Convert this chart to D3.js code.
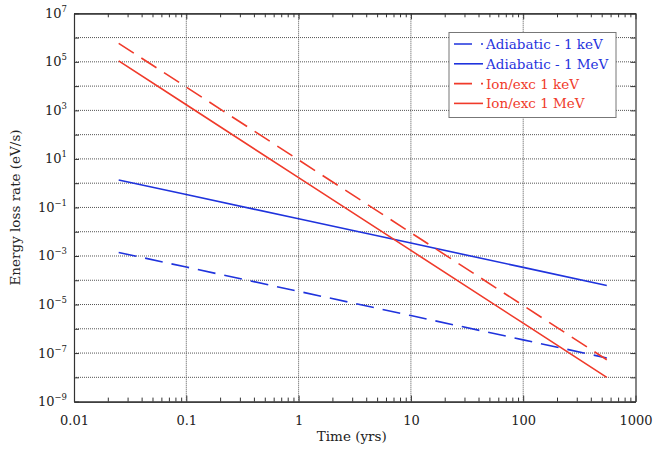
<!DOCTYPE html>
<html>
<head>
<meta charset="utf-8">
<script src="https://cdn.jsdelivr.net/npm/d3@7"></script>
<style>
  html, body { margin: 0; padding: 0; background: #fff; }
  svg { display: block; font-family: "DejaVu Serif", serif; }
</style>
</head>
<body>
<svg id="chart" width="653" height="450"></svg>
<script>
// Sample times (years) and energy loss rates (eV/s) for each process
const times = [0.025, 0.1, 1, 10, 100, 555];
const adiabaticKeV = [1.4e-3, 3.5e-4, 3.5e-5, 3.5e-6, 3.5e-7, 6.3e-8];
const adiabaticMeV = [1.35, 0.34, 0.034, 3.4e-3, 3.4e-4, 6.1e-5];
const ionKeV = [5.8e5, 9.1e3, 9.1, 9.1e-3, 9.1e-6, 5.3e-8];
const ionMeV = [1.1e5, 1.7e3, 1.7, 1.7e-3, 1.7e-6, 1.0e-8];

const seriesNames = ["Adiabatic - 1 keV", "Adiabatic - 1 MeV", "Ion/exc 1 keV", "Ion/exc 1 MeV"];
const seriesValues = [adiabaticKeV, adiabaticMeV, ionKeV, ionMeV];

const xTickValues = [0.01, 0.1, 1, 10, 100, 1000];
const xTickLabels = ["0.01", "0.1", "1", "10", "100", "1000"];
const yLabelExponents = [7, 5, 3, 1, -1, -3, -5, -7, -9];

const BLUE = "#1f33dd";
const RED = "#f03a2a";
const styles = [
  { color: BLUE, dash: "18,9" },
  { color: BLUE, dash: null },
  { color: RED, dash: "18,9" },
  { color: RED, dash: null }
];

const svg = d3.select("#chart");
const L = 74, R = 635.5, T = 13.3, B = 401.6;

const x = d3.scaleLog().domain([0.01, 1000]).range([L, R]);
const y = d3.scaleLog().domain([1e-9, 1e7]).range([B, T]);

const gridColor = "#555";
const axisColor = "#333";

// Dotted grid at every decade
const yDecades = d3.range(-8, 7).map(e => Math.pow(10, e));
const xDecades = [0.1, 1, 10, 100];
const grid = svg.append("g");
grid.selectAll("line.h").data(yDecades).join("line")
  .attr("x1", L).attr("x2", R)
  .attr("y1", d => y(d)).attr("y2", d => y(d))
  .attr("stroke", gridColor).attr("stroke-width", 1).attr("stroke-dasharray", "1,1");
grid.selectAll("line.v").data(xDecades).join("line")
  .attr("x1", d => x(d)).attr("x2", d => x(d))
  .attr("y1", T).attr("y2", B)
  .attr("stroke", gridColor).attr("stroke-width", 1).attr("stroke-dasharray", "1,1");

// Curves
const line = d3.line().x(d => x(d[0])).y(d => y(d[1]));
seriesValues.forEach((vals, i) => {
  svg.append("path")
    .datum(times.map((t, k) => [t, vals[k]]))
    .attr("d", line)
    .attr("fill", "none")
    .attr("stroke", styles[i].color)
    .attr("stroke-width", 1.6)
    .attr("stroke-dasharray", styles[i].dash);
});

// Axes with inward ticks on all four sides
const xMinor = [];
for (let e = -2; e < 3; e++) for (let m = 2; m <= 9; m++) xMinor.push(m * Math.pow(10, e));

const bottomMinor = d3.axisBottom(x).tickValues(xMinor).tickSizeInner(-4).tickSizeOuter(0).tickFormat("");
const topMinor = d3.axisTop(x).tickValues(xMinor).tickSizeInner(-4).tickSizeOuter(0).tickFormat("");
const bottomMajor = d3.axisBottom(x).tickValues(xTickValues).tickSizeInner(-6).tickSizeOuter(0)
  .tickPadding(14).tickFormat((d, i) => xTickLabels[i]);
const topMajor = d3.axisTop(x).tickValues(xTickValues).tickSizeInner(-6).tickSizeOuter(0).tickFormat("");
const yAll = d3.range(-9, 8).map(e => Math.pow(10, e));
const leftAxis = d3.axisLeft(y).tickValues(yAll).tickSizeInner(-5).tickSizeOuter(0).tickFormat("");
const rightAxis = d3.axisRight(y).tickValues(yAll).tickSizeInner(-5).tickSizeOuter(0).tickFormat("");

function styleAxis(g) {
  g.selectAll("path.domain").attr("stroke", axisColor).attr("stroke-width", 1.2);
  g.selectAll(".tick line").attr("stroke", axisColor).attr("stroke-width", 1);
}

svg.append("g").attr("transform", `translate(0,${B})`).call(bottomMinor).call(styleAxis);
const bx = svg.append("g").attr("transform", `translate(0,${B})`).call(bottomMajor).call(styleAxis);
bx.selectAll(".tick text")
  .attr("font-family", "DejaVu Serif, serif").attr("font-size", 13).attr("fill", "#222");
svg.append("g").attr("transform", `translate(0,${T})`).call(topMinor).call(styleAxis);
svg.append("g").attr("transform", `translate(0,${T})`).call(topMajor).call(styleAxis);
svg.append("g").attr("transform", `translate(${L},0)`).call(leftAxis).call(styleAxis);
svg.append("g").attr("transform", `translate(${R},0)`).call(rightAxis).call(styleAxis);

// Y tick labels as powers of ten with superscript exponents
const yLab = svg.append("g");
yLabelExponents.forEach(e => {
  const t = yLab.append("text")
    .attr("x", 67).attr("y", y(Math.pow(10, e)) + 4.5)
    .attr("text-anchor", "end")
    .attr("font-size", 13).attr("fill", "#222");
  t.append("tspan").text("10");
  t.append("tspan").attr("dy", -6).attr("font-size", 8.5).text(String(e).replace("-", "\u2212"));
});

// Axis titles
svg.append("text")
  .attr("x", (L + R) / 2 - 3).attr("y", 441)
  .attr("text-anchor", "middle").attr("font-size", 13.5).attr("fill", "#222")
  .text("Time (yrs)");
svg.append("text")
  .attr("transform", `translate(20,${(T + B) / 2}) rotate(-90)`)
  .attr("text-anchor", "middle").attr("font-size", 13.5).attr("fill", "#222")
  .text("Energy loss rate (eV/s)");

// Legend
const lg = svg.append("g");
lg.append("rect")
  .attr("x", 449).attr("y", 32.5).attr("width", 167).attr("height", 85)
  .attr("fill", "#fff").attr("stroke", "#777").attr("stroke-width", 1);
seriesNames.forEach((name, i) => {
  const cy = 44 + i * 19.8;
  lg.append("line")
    .attr("x1", 454).attr("x2", 483).attr("y1", cy).attr("y2", cy)
    .attr("stroke", styles[i].color).attr("stroke-width", 1.6)
    .attr("stroke-dasharray", styles[i].dash);
  lg.append("text")
    .attr("x", 486).attr("y", cy + 5)
    .attr("font-size", 13.5).attr("fill", styles[i].color)
    .text(name);
});
</script>
</body>
</html>
